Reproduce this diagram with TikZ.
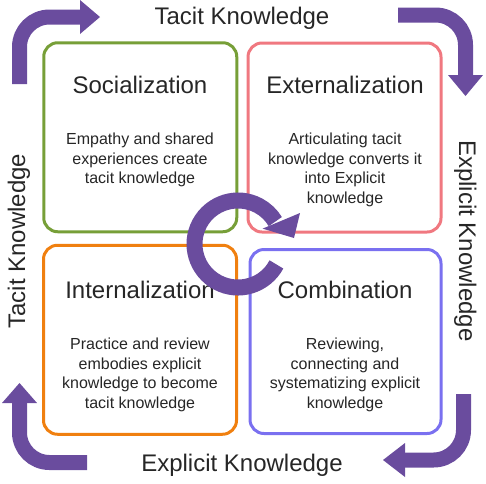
\documentclass[tikz,border=0pt]{standalone}
\usepackage{fontspec}
\setmainfont{Liberation Sans}
\usepackage{tikz}
\usetikzlibrary{calc}
\usepackage{xcolor}
\definecolor{socgreen}{RGB}{119,159,56}
\definecolor{extpink}{RGB}{240,120,128}
\definecolor{intorange}{RGB}{240,128,16}
\definecolor{combblue}{RGB}{122,112,240}
\definecolor{kpurple}{RGB}{106,76,158}
\definecolor{txtgray}{RGB}{38,38,38}

\tikzset{
  quad/.style={draw, line width=3pt, rounded corners=14pt, inner sep=0pt,
    minimum width=193pt, minimum height=189pt},
  title/.style={font=\fontsize{24}{28}\selectfont, text=txtgray, anchor=base, inner sep=0pt},
  body/.style={font=\fontsize{16}{19.5}\selectfont, text=txtgray, align=center,
    anchor=north, inner sep=0pt},
  band/.style={draw=kpurple, line width=15pt, rounded corners=30pt},
}

\begin{document}
\begin{tikzpicture}[x=1pt,y=-1pt]
        \useasboundingbox (0,0) rectangle (486,483);

        % the four quadrants
        \node[quad,draw=socgreen] (soc) at (140.25,137.25) {};
        \node[quad,draw=extpink] (ext) at (344.5,137.5) {};
        \node[quad,draw=intorange] (intl) at (140,339.75) {};
        \node[quad,draw=combblue,minimum width=191pt,minimum height=184pt] (comb) at (345.5,341.5) {};

        \node[title] (socT) at (140,93) {Socialization};
        \node[body] (socB) at (140,133) {Empathy and shared\\experiences create\\tacit knowledge};
        \node[title] (extT) at (345,93) {Externalization};
        \node[body] (extB) at (345,133) {Articulating tacit\\knowledge converts it\\into Explicit\\knowledge};
        \node[title] (intlT) at (140,298.5) {Internalization};
        \node[body] (intlB) at (140,338) {Practice and review\\embodies explicit\\knowledge to become\\tacit knowledge};
        \node[title] (combT) at (345,298.5) {Combination};
        \node[body] (combB) at (345,338) {Reviewing,\\connecting and\\systematizing explicit\\knowledge};

        % side labels
        \node[title] (tacitTop) at (242,24.5) {Tacit Knowledge};
        \node[title,rotate=90] (tacitLeft) at (25,241) {Tacit Knowledge};
        \node[title,rotate=-90] (explRight) at (459,241) {Explicit Knowledge};
        \node[title] (explBot) at (242,471) {Explicit Knowledge};

        % bent arrows in the corners
        \draw[band] (19.5,84) -- (19.5,17) -- (81,17);
        \fill[kpurple] (80,0) -- (100,17) -- (80,34) -- cycle;
        \draw[band] (398,15) -- (465.5,15) -- (465.5,76);
        \fill[kpurple] (448,75) -- (483,75) -- (465.5,96) -- cycle;
        \draw[band] (463.5,394) -- (463.5,460) -- (404,460);
        \fill[kpurple] (405,443) -- (405,477) -- (383,460) -- cycle;
        \draw[band] (87,462.5) -- (19.5,462.5) -- (19.5,402);
        \fill[kpurple] (2,403) -- (37,403) -- (19.5,383) -- cycle;

        % cycle arrow in the middle
        \coordinate (c) at (238,244);
        \draw[draw=kpurple,line width=16pt] ($(c)+(28:43.5)$) arc[start angle=28,end angle=329,radius=43.5];
        \fill[kpurple] ($(c)+(-32:29)$) -- (300,213) -- (294,238) -- cycle;
    \end{tikzpicture}
\end{document}
